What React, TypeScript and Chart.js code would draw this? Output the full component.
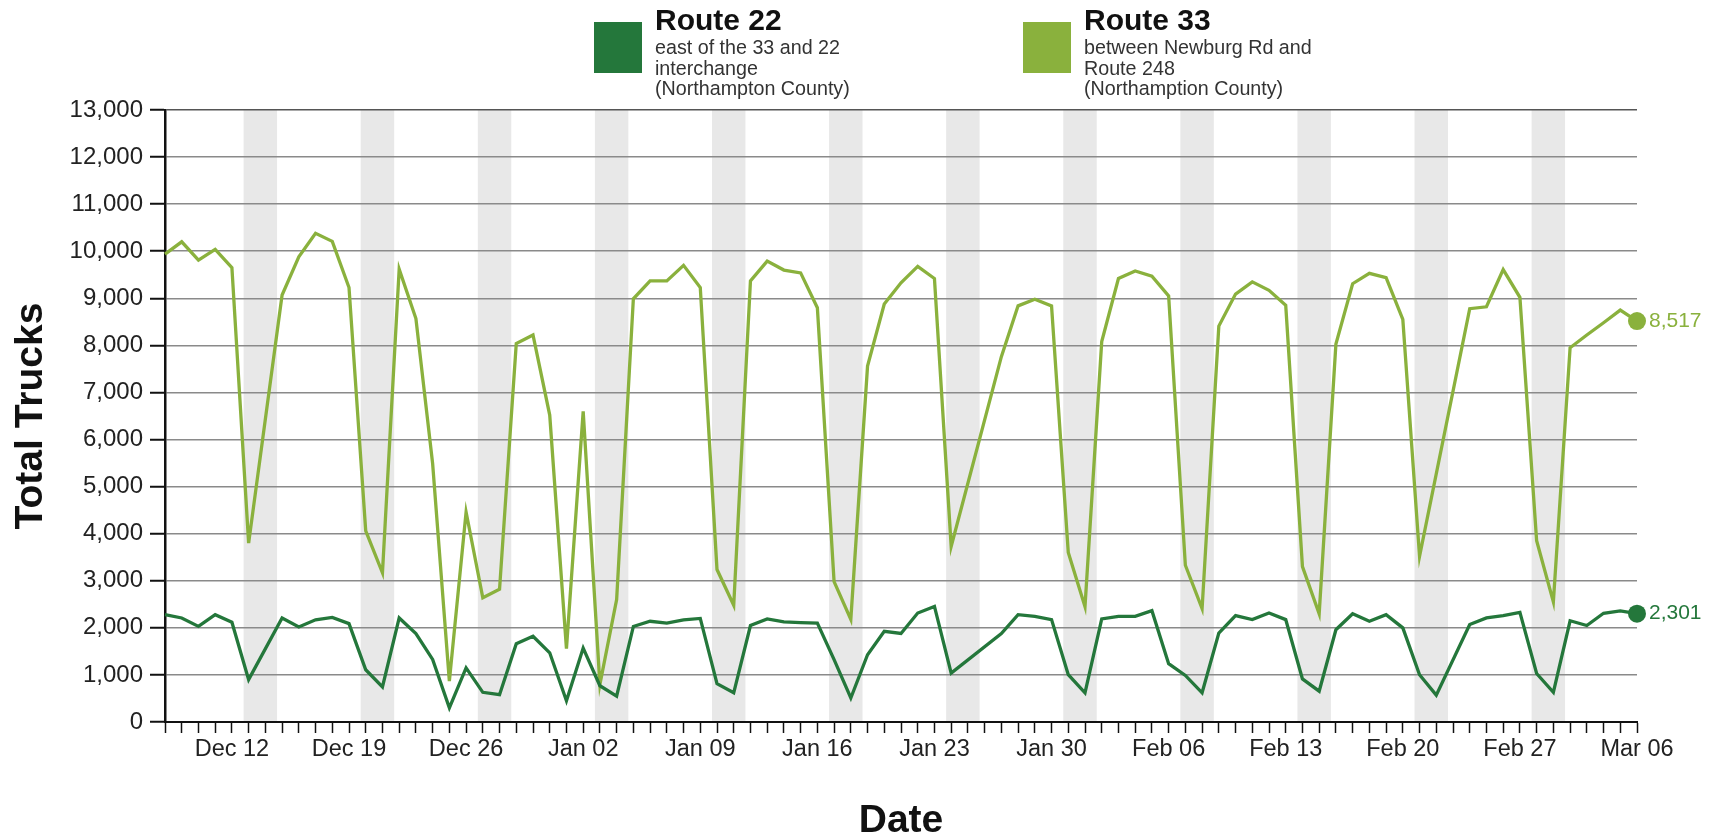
import React, { useEffect, useRef } from 'react';
import { Chart, registerables } from 'chart.js';

Chart.register(...registerables);

// Day index 0 = Dec 08 ... 88 = Mar 06 (null = no count that day)
const route22: (number | null)[] = [
  2280, 2210, 2030, 2280, 2120, 900, null, 2210, 2020, 2170,
  2220, 2090, 1110, 745, 2210, 1880, 1330, 300, 1150, 630,
  580, 1665, 1820, 1470, 450, 1570, 770, 550, 2030, 2140,
  2100, 2170, 2200, 815, 620, 2050, 2190, 2125, 2110, 2100,
  1325, 510, 1430, 1925, 1880, 2315, 2455, 1040, null, null,
  1880, 2280, 2245, 2175, 1005, 620, 2190, 2245, 2245, 2365,
  1240, 990, 620, 1890, 2260, 2175, 2315, 2175, 915, 655,
  1960, 2300, 2140, 2280, 2000, 1005, 570, null, 2070, 2210,
  2260, 2330, 1030, 630, 2150, 2050, 2310, 2360, 2301,
];

const route33: (number | null)[] = [
  9940, 10200, 9810, 10040, 9650, 3800, null, 9070, 9880, 10380,
  10210, 9230, 4060, 3170, 9620, 8570, 5490, 870, 4460, 2640,
  2820, 8040, 8220, 6520, 1560, 6600, 800, 2600, 8990, 9370,
  9370, 9700, 9230, 3240, 2480, 9370, 9790, 9600, 9540, 8800,
  2980, 2180, 7560, 8880, 9330, 9680, 9420, 3730, null, null,
  7760, 8840, 8980, 8840, 3600, 2450, 8080, 9420, 9580, 9470,
  9050, 3330, 2410, 8410, 9090, 9350, 9170, 8850, 3300, 2300,
  8030, 9310, 9530, 9440, 8550, 3520, null, null, 8780, 8820,
  9610, 9020, 3850, 2550, 7950, 8220, 8480, 8750, 8517,
];

const tickDays = [4, 11, 18, 25, 32, 39, 46, 53, 60, 67, 74, 81, 88];
const tickLabels = [
  'Dec 12', 'Dec 19', 'Dec 26', 'Jan 02', 'Jan 09', 'Jan 16', 'Jan 23',
  'Jan 30', 'Feb 06', 'Feb 13', 'Feb 20', 'Feb 27', 'Mar 06',
];
const weekendDays = [5, 12, 19, 26, 33, 40, 47, 54, 61, 68, 75, 82];

const seriesNames = ['Route 22', 'Route 33'];
const seriesNotes = [
  ['east of the 33 and 22', 'interchange', '(Northampton County)'],
  ['between Newburg Rd and', 'Route 248', '(Northamption County)'],
];
const seriesColors = ['#24773b', '#8ab13d'];

const FONT = '"Liberation Sans", Arial, Helvetica, sans-serif';

const bandsPlugin = {
  id: 'weekendBands',
  beforeDraw(chart: any) {
    const { ctx, chartArea, scales } = chart;
    ctx.save();
    ctx.fillStyle = '#e8e8e8';
    weekendDays.forEach((d) => {
      const x1 = scales.x.getPixelForValue(d - 0.3);
      const x2 = scales.x.getPixelForValue(d + 1.7);
      ctx.fillRect(x1, chartArea.top, x2 - x1, chartArea.bottom - chartArea.top);
    });
    ctx.restore();
  },
};

const endLabelPlugin = {
  id: 'endLabels',
  afterDatasetsDraw(chart: any) {
    const { ctx } = chart;
    ctx.save();
    chart.data.datasets.forEach((ds: any, i: number) => {
      const meta = chart.getDatasetMeta(i);
      const last = meta.data[meta.data.length - 1];
      const v = ds.data[ds.data.length - 1].y;
      ctx.fillStyle = seriesColors[i];
      ctx.font = `21px ${FONT}`;
      ctx.textBaseline = 'middle';
      ctx.textAlign = 'left';
      ctx.fillText(v.toLocaleString('en-US'), last.x + 12, last.y);
    });
    ctx.restore();
  },
};

const legendPlugin = {
  id: 'customLegend',
  afterDraw(chart: any) {
    const { ctx } = chart;
    const xs = [594, 1023];
    ctx.save();
    seriesNames.forEach((name, i) => {
      const x = xs[i];
      ctx.fillStyle = seriesColors[i];
      ctx.fillRect(x, 22, 48, 51);
      ctx.fillStyle = '#111';
      ctx.textAlign = 'left';
      ctx.textBaseline = 'alphabetic';
      ctx.font = `bold 30px ${FONT}`;
      ctx.fillText(name, x + 61, 30);
      ctx.fillStyle = '#333';
      ctx.font = `19.7px ${FONT}`;
      seriesNotes[i].forEach((line, j) => {
        ctx.fillText(line, x + 61, 54 + j * 20.5);
      });
    });
    ctx.restore();
  },
};

export default function App() {
  const canvasRef = useRef<HTMLCanvasElement | null>(null);

  useEffect(() => {
    document.body.style.margin = '0';
    document.body.style.overflow = 'hidden';
    const canvas = canvasRef.current;
    if (!canvas) return;
    Chart.defaults.font.family = FONT;

    const chart = new Chart(canvas, {
      type: 'line',
      data: {
        datasets: [route22, route33].map((arr, i) => ({
          label: seriesNames[i],
          data: arr.map((v, d) => ({ x: d, y: v })),
          borderColor: seriesColors[i],
          backgroundColor: seriesColors[i],
          borderWidth: 3.3,
          tension: 0,
          spanGaps: true,
          clip: false,
          pointRadius: (c: any) => (c.dataIndex === arr.length - 1 ? 9 : 0),
          pointBorderWidth: 0,
          pointBackgroundColor: seriesColors[i],
        })),
      },
      options: {
        animation: false,
        responsive: true,
        maintainAspectRatio: false,
        devicePixelRatio: 1,
        events: [],
        layout: { padding: { top: 110, right: 88, left: 0, bottom: 0 } },
        plugins: {
          legend: { display: false },
          tooltip: { enabled: false },
        },
        scales: {
          x: {
            type: 'linear',
            min: 0,
            max: 88,
            ticks: {
              stepSize: 1,
              autoSkip: false,
              maxRotation: 0,
              minRotation: 0,
              padding: 2,
              color: '#222',
              font: { size: 23.5 },
              callback: (v: any) => {
                const k = tickDays.indexOf(Number(v));
                return k >= 0 ? tickLabels[k] : '';
              },
            },
            grid: {
              drawOnChartArea: false,
              tickColor: '#111',
              tickLength: 11,
              tickWidth: 1.5,
            },
            border: { color: '#111', width: 2 },
            title: {
              display: true,
              text: 'Date',
              color: '#111',
              font: { size: 39, weight: 'bold', lineHeight: 0.8 },
              padding: { top: 0, bottom: 1 },
            },
            afterFit: (s: any) => {
              s.height = 116;
            },
          },
          y: {
            min: 0,
            max: 13000,
            ticks: {
              stepSize: 1000,
              padding: 7,
              color: '#222',
              font: { size: 24 },
              callback: (v: any) => Number(v).toLocaleString('en-US'),
            },
            grid: {
              color: (c: any) => (c.tick && c.tick.value === 13000 ? '#555' : '#8a8a8a'),
              lineWidth: 1.5,
              tickColor: '#111',
              tickLength: 15,
              tickWidth: 2,
            },
            border: { color: '#111', width: 2.5 },
            title: {
              display: true,
              text: 'Total Trucks',
              color: '#111',
              font: { size: 39, weight: 'bold', lineHeight: 1.2 },
              padding: { top: 8, bottom: 0 },
            },
            afterFit: (s: any) => {
              s.width = 165;
            },
          },
        },
      },
      plugins: [bandsPlugin, endLabelPlugin, legendPlugin],
    } as any);

    return () => {
      chart.destroy();
    };
  }, []);

  return (
    <div style={{ position: 'fixed', left: 0, top: 0, width: '1725px', height: '838px' }}>
      <canvas ref={canvasRef} />
    </div>
  );
}
